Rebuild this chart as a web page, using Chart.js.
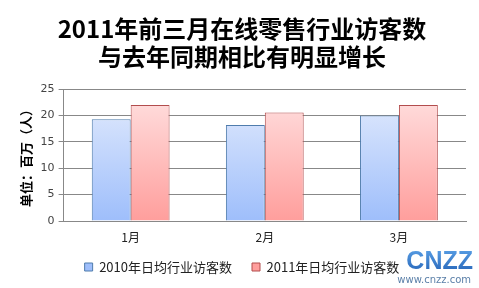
<!DOCTYPE html>
<html>
<head>
<meta charset="utf-8">
<script src="https://cdn.jsdelivr.net/npm/chart.js@4/dist/chart.umd.min.js"></script>
<style>
  html, body { margin: 0; padding: 0; background: #fff; }
  #wrap { width: 479px; height: 288px; position: relative; }
</style>
</head>
<body>
<div id="wrap"><canvas id="c" width="479" height="288"></canvas></div>
<script>
const months = ['1月', '2月', '3月'];
const visitors2010 = [19.3, 18.2, 20.0];
const visitors2011 = [22.0, 20.6, 22.0];
const seriesNames = ['2010年日均行业访客数', '2011年日均行业访客数'];
const titleLines = ['2011年前三月在线零售行业访客数', '与去年同期相比有明显增长'];
const yAxisTitle = '单位：百万（人）';
const yTicks = [0, 5, 10, 15, 20, 25];

const cjk = '"Noto Sans CJK SC", "Liberation Sans", sans-serif';

function verticalGradient(top, bottom) {
  return (ctx) => {
    const area = ctx.chart.chartArea;
    if (!area) return bottom;
    const g = ctx.chart.ctx.createLinearGradient(0, area.top, 0, area.bottom);
    g.addColorStop(0, top);
    g.addColorStop(1, bottom);
    return g;
  };
}

// pull the legend row a little closer to the month labels
const legendLift = {
  id: 'legendLift',
  afterLayout(chart) {
    const lg = chart.legend;
    if (lg) { lg.top -= 4.5; lg.bottom -= 4.5; }
  }
};

// brand mark in the lower right corner
const brandMark = {
  id: 'brandMark',
  afterDraw(chart) {
    const c = chart.ctx;
    c.save();
    const g = c.createLinearGradient(0, 248, 0, 269);
    g.addColorStop(0, '#5aa0e6');
    g.addColorStop(1, '#2f6fc0');
    c.fillStyle = g;
    c.font = 'bold 25px "Liberation Sans", sans-serif';
    c.textAlign = 'right';
    c.textBaseline = 'alphabetic';
    c.fillText('CNZZ', 473, 269);
    c.fillStyle = '#5a7fa8';
    c.font = '10px "DejaVu Sans", sans-serif';
    c.fillText('www.cnzz.com', 471, 283);
    c.restore();
  }
};

new Chart(document.getElementById('c'), {
  type: 'bar',
  data: {
    labels: months,
    datasets: [
      {
        label: seriesNames[0],
        data: visitors2010,
        backgroundColor: verticalGradient('#e4ecfd', '#9ebefb'),
        borderColor: '#4f7cac',
        borderWidth: 1,
        borderSkipped: 'bottom'
      },
      {
        label: seriesNames[1],
        data: visitors2011,
        backgroundColor: verticalGradient('#ffe2e2', '#ff9e9c'),
        borderColor: '#b24d4d',
        borderWidth: 1,
        borderSkipped: 'bottom'
      }
    ]
  },
  options: {
    responsive: false,
    animation: false,
    devicePixelRatio: 1,
    layout: { padding: { left: 18, right: 13, top: 0, bottom: 0 } },
    datasets: { bar: { barPercentage: 1, categoryPercentage: 0.58 } },
    plugins: {
      title: {
        display: true,
        text: titleLines,
        color: '#000',
        font: { family: cjk, size: 24, weight: 'bold', lineHeight: 1.15 },
        padding: { top: 15, bottom: 19 }
      },
      legend: {
        position: 'bottom',
        labels: {
          boxWidth: 8,
          boxHeight: 8,
          padding: 20,
          color: '#222',
          font: { family: cjk, size: 13 }
        }
      },
      tooltip: { enabled: false }
    },
    scales: {
      x: {
        grid: { display: false, drawTicks: false },
        border: { display: true, color: '#888' },
        ticks: { color: '#222', font: { family: cjk, size: 12 }, padding: 9 },
        afterFit(axis) { axis.height = 24; }
      },
      y: {
        min: 0,
        max: 25,
        afterBuildTicks(axis) { axis.ticks = yTicks.map(v => ({ value: v })); },
        grid: { color: '#888', lineWidth: 1, tickLength: 5, tickColor: '#888' },
        border: { display: true, color: '#888' },
        ticks: { color: '#444', font: { family: '"DejaVu Sans", sans-serif', size: 11 }, padding: 4 },
        title: {
          display: true,
          text: yAxisTitle,
          color: '#000',
          font: { family: cjk, size: 13, weight: 'bold' },
          padding: { top: 0, bottom: 3 }
        }
      }
    }
  },
  plugins: [legendLift, brandMark]
});
</script>
</body>
</html>
